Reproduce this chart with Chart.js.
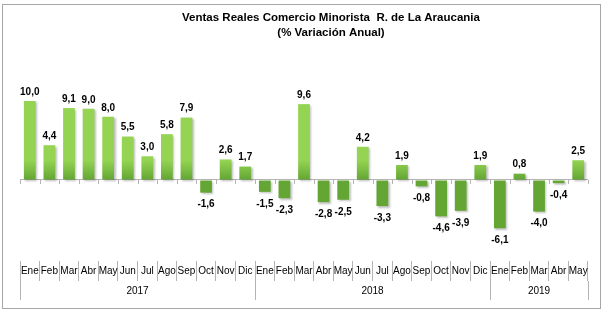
<!DOCTYPE html>
<html lang="es">
<head>
<meta charset="utf-8">
<title>Ventas Reales Comercio Minorista R. de La Araucania</title>
<script src="https://cdn.jsdelivr.net/npm/chart.js@4/dist/chart.umd.min.js"></script>
<style>
  html, body { margin: 0; padding: 0; background: #fff; }
  #chart { display: block; }
</style>
</head>
<body>
<canvas id="chart" width="603" height="322"></canvas>
<script>
'use strict';

// ====== DATA ======
const titleLines = ['Ventas Reales Comercio Minorista  R. de La Araucania', '(% Variación Anual)'];
const mesesAnio = ['Ene', 'Feb', 'Mar', 'Abr', 'May', 'Jun', 'Jul', 'Ago', 'Sep', 'Oct', 'Nov', 'Dic'];
const anios = ['2017', '2018', '2019'];
const mesesPorAnio = [12, 12, 5];
const variacion = [
    10.0, 4.4, 9.1, 9.0, 8.0, 5.5, 3.0, 5.8, 7.9, -1.6, 2.6, 1.7,
    -1.5, -2.3, 9.6, -2.8, -2.5, 4.2, -3.3, 1.9, -0.8, -4.6, -3.9, 1.9,
    -6.1, 0.8, -4.0, -0.4, 2.5
];

// month labels for every bar, one year after another
const meses = mesesPorAnio.flatMap(n => mesesAnio.slice(0, n));

// year boundaries and centres on the index scale (-0.5 .. n-0.5)
const yearEdges = [-0.5];
const yearCenters = [];
mesesPorAnio.forEach(n => {
    const start = yearEdges[yearEdges.length - 1];
    yearCenters.push(start + n / 2);
    yearEdges.push(start + n);
});

const FONT = '"Liberation Sans", Arial, sans-serif';
const GRID = '#b4b4b4';

// ====== PLUGINS ======
const frameAndTitle = {
    id: 'frameAndTitle',
    beforeDraw(chart) {
        const ctx = chart.ctx;
        ctx.save();
        ctx.fillStyle = '#fff';
        ctx.fillRect(0, 0, chart.width, chart.height);
        ctx.strokeStyle = '#a6a6a6';
        ctx.lineWidth = 1;
        ctx.strokeRect(2.5, 4.5, 598, 304);
        ctx.fillStyle = '#000';
        ctx.font = 'bold 11.5px ' + FONT;
        ctx.textAlign = 'center';
        ctx.textBaseline = 'middle';
        titleLines.forEach((t, i) => ctx.fillText(t, 331, 18 + i * 15));
        ctx.restore();
    }
};

const barStyle = {
    id: 'barStyle',
    beforeDatasetsDraw(chart) {
        const ctx = chart.ctx;
        const yr = chart.scales.yr;
        const zero = chart.scales.y.getPixelForValue(0);

        // small tick marks hanging from the zero line
        ctx.save();
        ctx.strokeStyle = GRID;
        ctx.lineWidth = 1;
        ctx.beginPath();
        for (let i = 0; i <= variacion.length; i++) {
            const x = Math.round(yr.getPixelForValue(i - 0.5)) + 0.5;
            ctx.moveTo(x, zero);
            ctx.lineTo(x, zero + 4);
        }
        ctx.stroke();
        ctx.restore();

        // gradient from the base (dark) to the tip (light) of each bar
        chart.getDatasetMeta(0).data.forEach(el => {
            const g = ctx.createLinearGradient(0, el.base, 0, el.y);
            g.addColorStop(0, '#64a634');
            g.addColorStop(1, '#94d452');
            el.options.backgroundColor = g;
        });

        ctx.save();
        ctx.shadowColor = 'rgba(0,0,0,0.25)';
        ctx.shadowOffsetX = 1.5;
        ctx.shadowOffsetY = 1.5;
        ctx.shadowBlur = 2;
    },
    afterDatasetsDraw(chart) {
        const ctx = chart.ctx;
        ctx.restore();

        // value labels, decimal comma
        ctx.save();
        ctx.fillStyle = '#000';
        ctx.font = 'bold 10px ' + FONT;
        ctx.textAlign = 'center';
        ctx.textBaseline = 'middle';
        chart.getDatasetMeta(0).data.forEach((el, i) => {
            const v = variacion[i];
            const txt = v.toFixed(1).replace('.', ',');
            const y = v >= 0 ? el.y - 9 : el.y + 12;
            ctx.fillText(txt, el.x, y);
        });
        ctx.restore();
    }
};

// ====== CHART ======
new Chart(document.getElementById('chart'), {
    type: 'bar',
    data: {
        labels: meses,
        datasets: [{
            data: variacion,
            backgroundColor: '#7dbf41',
            borderWidth: 0,
            barPercentage: 0.6,
            categoryPercentage: 1
        }]
    },
    options: {
        responsive: false,
        animation: false,
        layout: { padding: { top: 50, left: 20, right: 15, bottom: 22 } },
        plugins: {
            legend: { display: false },
            title: { display: false },
            tooltip: { enabled: false }
        },
        scales: {
            y: {
                min: -10.25,
                max: 16.45,
                afterBuildTicks: s => { s.ticks = [{ value: 0 }]; },
                ticks: { display: false },
                border: { display: false },
                grid: {
                    drawTicks: false,
                    color: c => c.tick && c.tick.value === 0 ? GRID : 'transparent'
                }
            },
            x: {
                position: 'bottom',
                weight: 0,
                offset: true,
                border: { display: false },
                grid: {
                    offset: true,
                    drawOnChartArea: false,
                    tickLength: 20,
                    color: GRID
                },
                ticks: {
                    autoSkip: false,
                    maxRotation: 0,
                    padding: -16,
                    color: '#000',
                    font: { family: FONT, size: 10 }
                },
                afterFit: s => { s.height = 20; }
            },
            yr: {
                type: 'linear',
                position: 'bottom',
                weight: 1,
                min: -0.5,
                max: variacion.length - 0.5,
                offset: false,
                border: { display: false },
                afterBuildTicks: s => {
                    s.ticks = yearEdges.concat(yearCenters)
                        .sort((a, b) => a - b)
                        .map(v => ({ value: v }));
                },
                grid: {
                    offset: false,
                    drawOnChartArea: false,
                    tickLength: 19,
                    color: c => c.tick && yearEdges.includes(c.tick.value) ? GRID : 'transparent'
                },
                ticks: {
                    autoSkip: false,
                    maxRotation: 0,
                    padding: -15,
                    color: '#000',
                    font: { family: FONT, size: 10 },
                    callback: v => {
                        const k = yearCenters.indexOf(v);
                        return k >= 0 ? anios[k] : '';
                    }
                },
                afterFit: s => { s.height = 19; }
            }
        }
    },
    plugins: [frameAndTitle, barStyle]
});
</script>
</body>
</html>
